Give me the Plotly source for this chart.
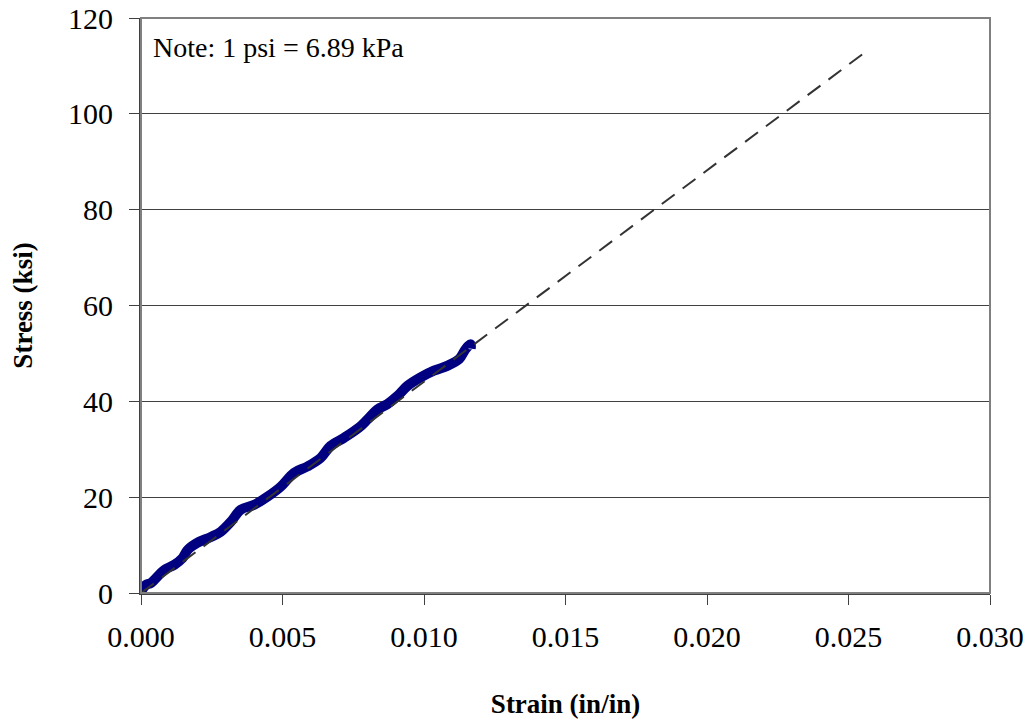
import plotly.graph_objects as go

# Measured stress-strain data
strain = [0.0, 0.00018, 0.00035, 0.00082, 0.00118, 0.00147, 0.00165, 0.0020, 0.00247,
          0.00282, 0.00318, 0.00353, 0.0040, 0.00447, 0.00494, 0.00541, 0.00588,
          0.00635, 0.0067, 0.00718, 0.0077, 0.0080, 0.00835, 0.0087, 0.00906,
          0.00941, 0.00988, 0.01035, 0.01082, 0.01124, 0.01147, 0.01165, 0.01165]
stress = [0.3, 1.7, 2.1, 4.8, 5.9, 7.3, 9.0, 10.5, 11.7,
          12.8, 14.9, 17.4, 18.4, 20.1, 22.2, 25.1, 26.4,
          28.2, 30.7, 32.4, 34.5, 36.2, 38.3, 39.4, 41.1,
          43.2, 45.0, 46.4, 47.4, 48.8, 50.9, 51.9, 51.0]

# Linear fit (dashed)
fit_strain = [0.0, 0.02562]
fit_stress = [0.0, 113.0]

x_ticks = [0.0, 0.005, 0.010, 0.015, 0.020, 0.025, 0.030]
x_tick_labels = ["0.000", "0.005", "0.010", "0.015", "0.020", "0.025", "0.030"]
y_ticks = [0, 20, 40, 60, 80, 100, 120]

FONT = "Liberation Serif, Times New Roman, serif"

fig = go.Figure()
fig.add_trace(go.Scatter(x=strain, y=stress, mode="lines",
                         line=dict(color="#000080", width=10, shape="spline"),
                         showlegend=False))
fig.add_trace(go.Scatter(x=fit_strain, y=fit_stress, mode="lines",
                         line=dict(color="#333333", width=2, dash="16px,10px"),
                         showlegend=False))

fig.update_layout(
    width=1032, height=723,
    margin=dict(l=141, r=42, t=18, b=130, autoexpand=False),
    paper_bgcolor="white", plot_bgcolor="white",
    font=dict(family=FONT, size=30, color="black"),
    shapes=[dict(type="rect", xref="paper", yref="paper", x0=0, y0=0, x1=1, y1=1,
                 line=dict(color="#808080", width=2), layer="above")],
    annotations=[dict(text="Note: 1 psi = 6.89 kPa", xref="paper", yref="paper",
                      x=0.012, y=0.948, xanchor="left", yanchor="middle",
                      showarrow=False, font=dict(family=FONT, size=28, color="black"))],
)
fig.update_xaxes(
    range=[0, 0.030], tickvals=x_ticks, ticktext=x_tick_labels,
    ticks="outside", ticklen=10, tickcolor="#404040", tickwidth=1,
    ticklabelstandoff=6, automargin=False,
    showgrid=False, zeroline=False, showline=True, linecolor="#404040", linewidth=2,
    title=dict(text="<b>Strain (in/in)</b>", font=dict(family=FONT, size=27), standoff=42),
    tickfont=dict(family=FONT, size=30),
)
fig.update_yaxes(
    range=[0, 120], tickvals=y_ticks,
    ticks="outside", ticklen=10, tickcolor="#404040", tickwidth=1,
    ticklabelstandoff=10, automargin=False,
    showgrid=True, gridcolor="#404040", gridwidth=1,
    zeroline=False, showline=True, linecolor="#404040", linewidth=2,
    title=dict(text="<b>Stress (ksi)</b>", font=dict(family=FONT, size=27), standoff=28),
    tickfont=dict(family=FONT, size=30),
)

fig.write_html("out.html")
